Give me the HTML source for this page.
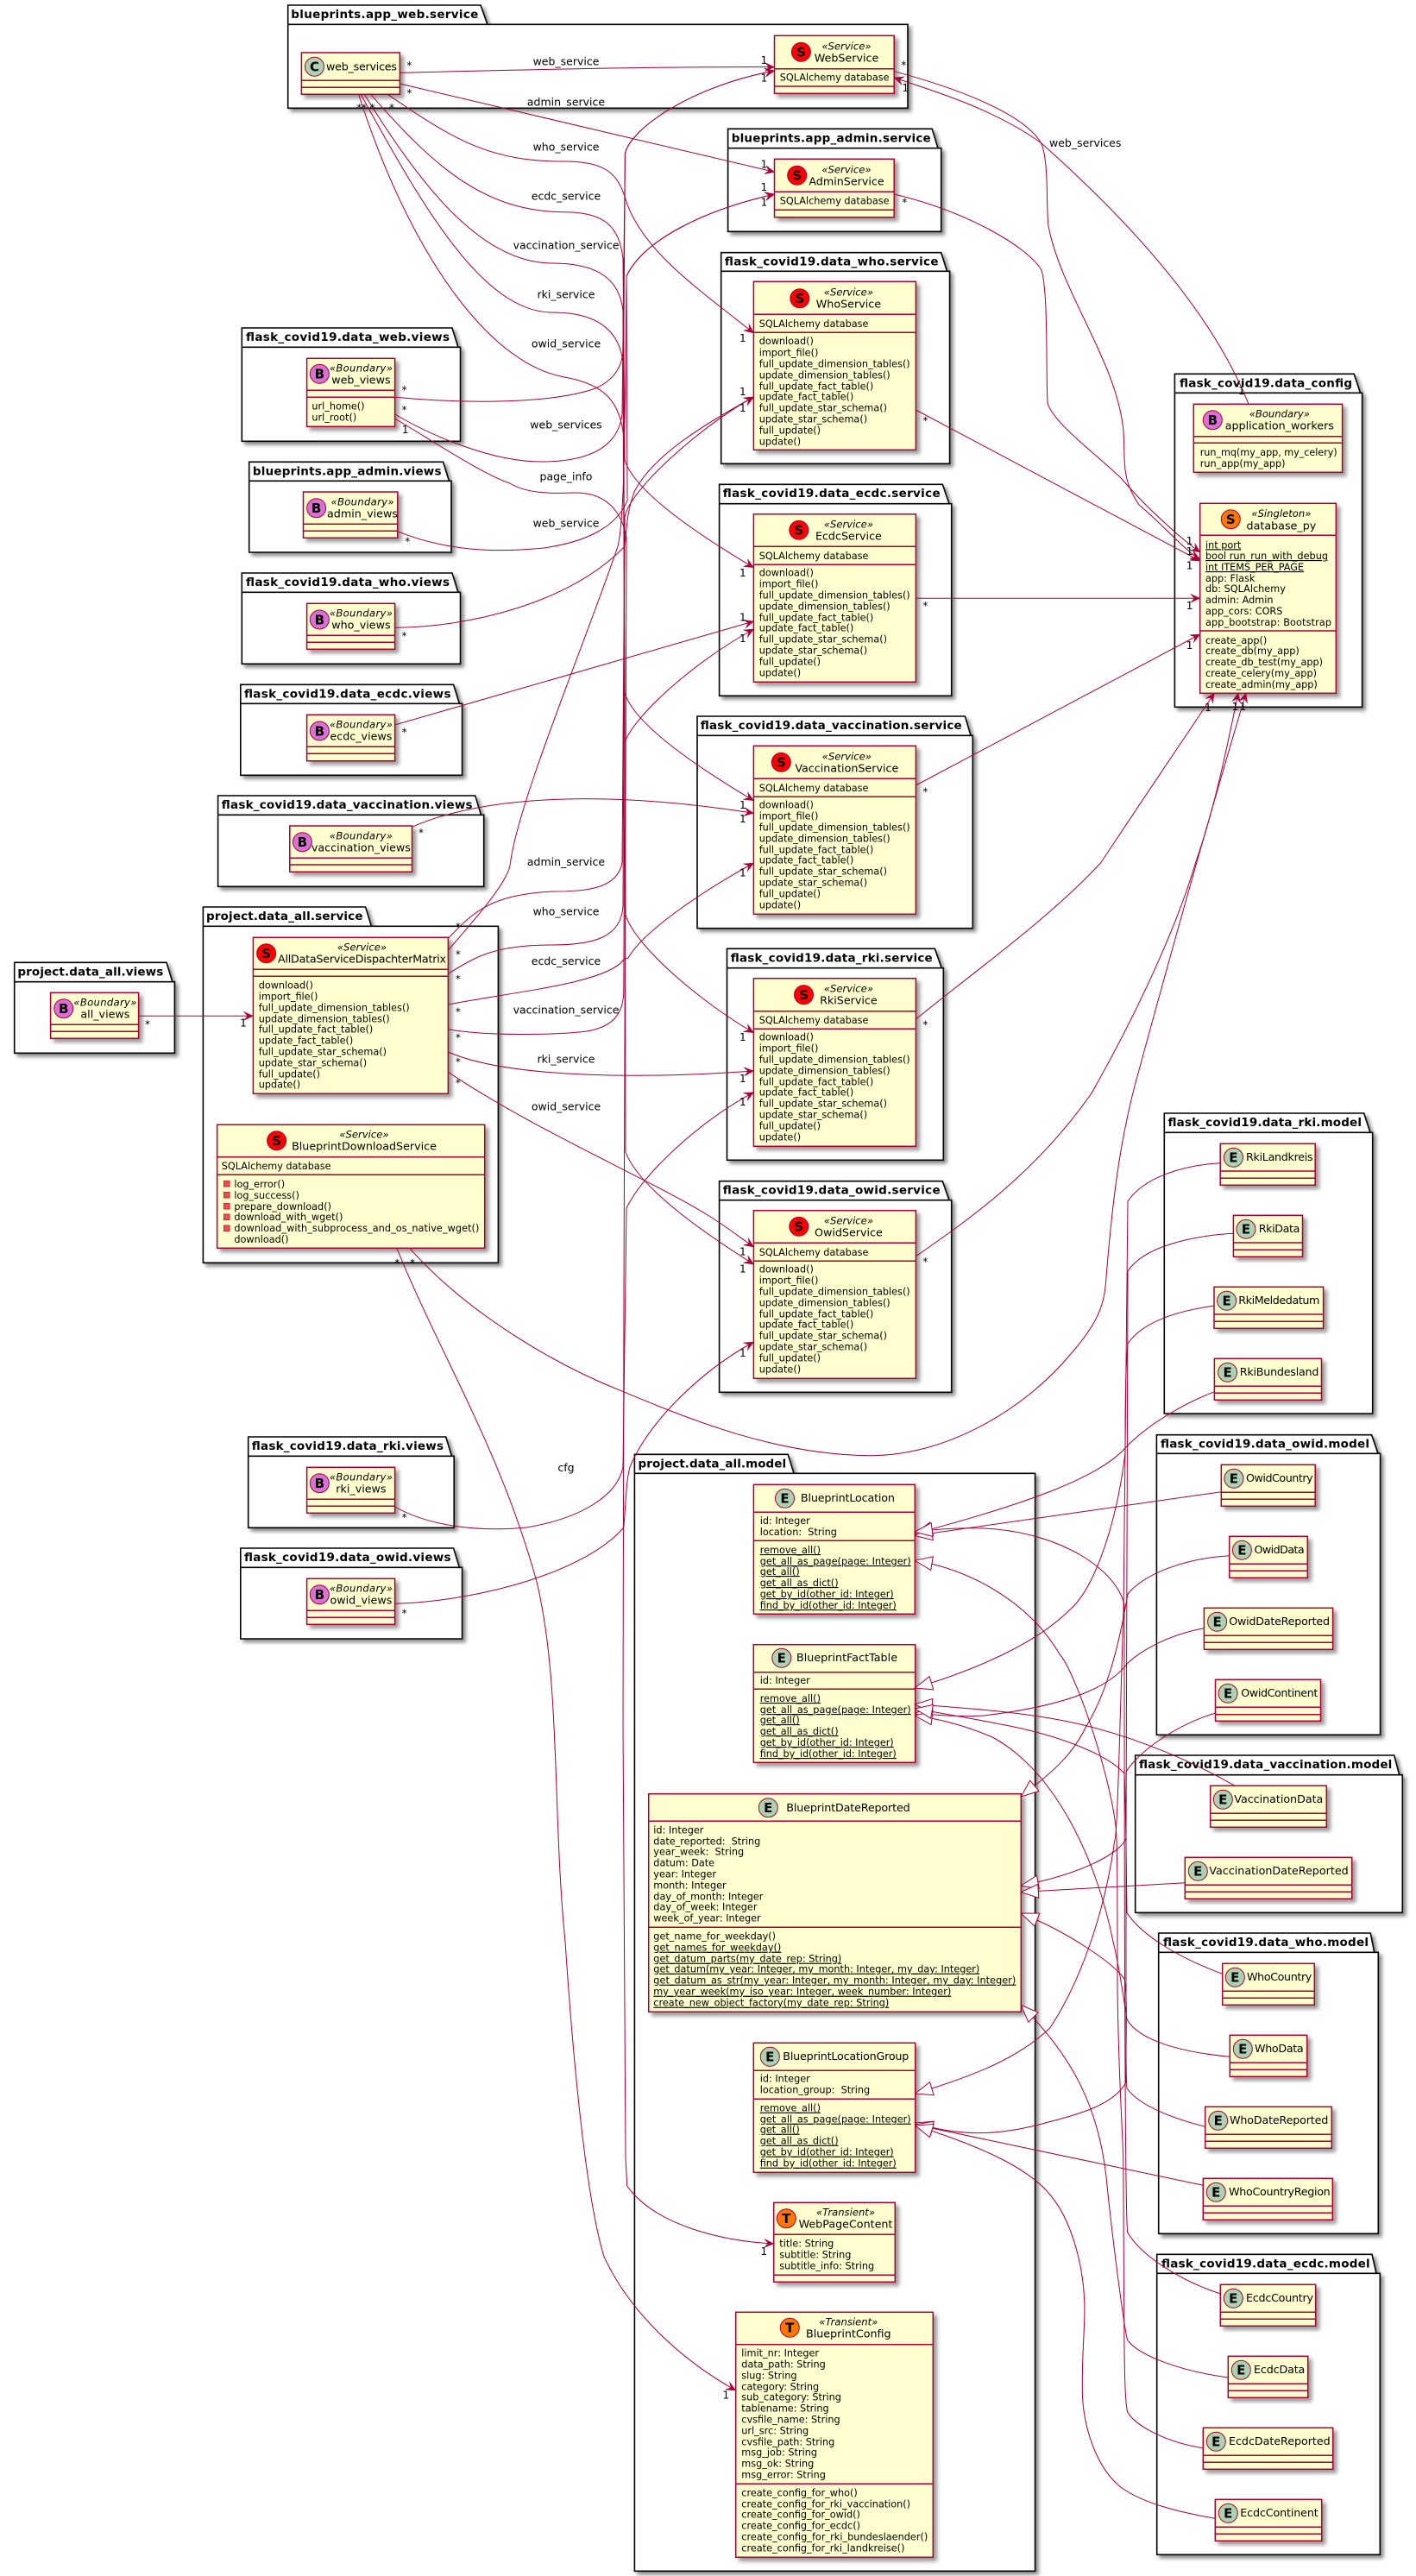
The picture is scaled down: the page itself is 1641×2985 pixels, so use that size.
<!DOCTYPE html>
<html><head><meta charset="utf-8"><title>UML</title>
<style>
html,body{margin:0;padding:0;background:#fff}
svg{display:block}
text{font-family:"DejaVu Sans","Liberation Sans",sans-serif;font-size:11.25px;fill:#000}
.p{fill:#fff;stroke:#000;stroke-width:1.6;filter:url(#s)}
.pl{fill:none;stroke:#000;stroke-width:1.6}
.pt{font-weight:bold;font-size:13.5px}
.c{fill:#FEFECE;stroke:#A80036;stroke-width:1.5;filter:url(#s2)}
.k{fill:none;stroke:#A80036;stroke-width:1.5}
.o{stroke:#A80036;stroke-width:1}
.e{fill:none;stroke:#A80036;stroke-width:1;marker-end:url(#a)}
.g{fill:none;stroke:#A80036;stroke-width:1;marker-end:url(#h)}
.n{fill:none;stroke:#A80036;stroke-width:1}
.i{font-style:italic;text-anchor:middle;font-size:11.6px}
.m{text-anchor:middle;font-size:12.7px}
.nm{font-size:12.7px}
.lb{text-anchor:middle;font-size:12.5px}
.u{text-decoration:underline}
.L{font-weight:bold;font-size:15px;text-anchor:middle}
.x{font-size:12px;text-anchor:middle}
</style></head><body>
<svg width="1641" height="2985" viewBox="0 0 1641 2985" xmlns="http://www.w3.org/2000/svg">
<defs>
<filter id="s" x="-5%" y="-5%" width="112%" height="112%"><feDropShadow dx="3.5" dy="3.5" stdDeviation="2.2" flood-color="#000" flood-opacity=".45"/></filter>
<filter id="s2" x="-10%" y="-10%" width="125%" height="125%"><feDropShadow dx="4" dy="4" stdDeviation="2.5" flood-color="#000" flood-opacity=".4"/></filter>
<marker id="a" markerUnits="userSpaceOnUse" markerWidth="13" markerHeight="12" refX="11" refY="5" orient="auto" overflow="visible"><path d="M11,5 L0,0 L4.5,5 L0,10 Z" fill="#A80036" stroke="#A80036" stroke-width=".5"/></marker>
<marker id="h" markerUnits="userSpaceOnUse" markerWidth="22" markerHeight="18" refX="20" refY="8" orient="auto" overflow="visible"><path d="M20,8 L0,0 L0,16 Z" fill="#fff" stroke="#A80036" stroke-width="1"/></marker>
</defs>
<rect width="1641" height="2985" fill="#fff"/>

<!-- packages -->
<g>
<path class="p" d="M333.7,6H557L564.9,28.3H1052V125.3H333.7Z"/><path class="pl" d="M333.7,28.3H564.9"/><text class="pt" x="337.3" y="21" textLength="217">blueprints.app_web.service</text>
<path class="p" d="M843.6,149.3H1080.2L1087,171.7H1090.7V268.3H843.6Z"/><path class="pl" d="M843.6,171.7H1087"/><text class="pt" x="847.7" y="164.5" textLength="231">blueprints.app_admin.service</text>
<path class="p" d="M835.7,292.7H1090.7L1097.5,314.3H1100.6V537.3H835.7Z"/><path class="pl" d="M835.7,314.3H1097.5"/><text class="pt" x="839.9" y="307.5" textLength="247.6">flask_covid19.data_who.service</text>
<path class="p" d="M833.6,561.3H1092.3L1100,583.7H1102.7V806.3H833.6Z"/><path class="pl" d="M833.6,583.7H1100"/><text class="pt" x="837.8" y="576" textLength="251.8">flask_covid19.data_ecdc.service</text>
<path class="p" d="M808,830H1118.4L1125,852.3H1127.3V1075.7H808Z"/><path class="pl" d="M808,852.3H1125"/><text class="pt" x="811.7" y="845" textLength="303">flask_covid19.data_vaccination.service</text>
<path class="p" d="M842.5,1099.3H1083.4L1091.2,1121.7H1093.3V1344.3H842.5Z"/><path class="pl" d="M842.5,1121.7H1091.2"/><text class="pt" x="846.7" y="1114.5" textLength="234">flask_covid19.data_rki.service</text>
<path class="p" d="M833.6,1368.7H1092.3L1100,1390.7H1102.7V1613.3H833.6Z"/><path class="pl" d="M833.6,1390.7H1100"/><text class="pt" x="837.8" y="1383.5" textLength="251.8">flask_covid19.data_owid.service</text>
<path class="p" d="M1361.4,433.3H1569.2L1576.5,455.3H1578.6V819.3H1361.4Z"/><path class="pl" d="M1361.4,455.3H1576.5"/><text class="pt" x="1367" y="448.5" textLength="200">flask_covid19.data_config</text>
<path class="p" d="M280.3,380H524L530.9,402.3H533.5V511.3H280.3Z"/><path class="pl" d="M280.3,402.3H530.9"/><text class="pt" x="285" y="395" textLength="236">flask_covid19.data_web.views</text>
<path class="p" d="M288.7,535.3H513.6L520.4,557.3H523V640H288.7Z"/><path class="pl" d="M288.7,557.3H520.4"/><text class="pt" x="292.9" y="550.5" textLength="218.6">blueprints.app_admin.views</text>
<path class="p" d="M280.3,664H524L530.9,686.3H533.5V769.3H280.3Z"/><path class="pl" d="M280.3,686.3H530.9"/><text class="pt" x="285" y="679" textLength="236">flask_covid19.data_who.views</text>
<path class="p" d="M278.8,793.3H525.6L532.4,815.3H535.6V898.3H278.8Z"/><path class="pl" d="M278.8,815.3H532.4"/><text class="pt" x="283" y="808.5" textLength="239.5">flask_covid19.data_ecdc.views</text>
<path class="p" d="M252.6,922H550.7L557.5,944.3H560.7V1027.3H252.6Z"/><path class="pl" d="M252.6,944.3H557.5"/><text class="pt" x="256.8" y="937" textLength="290.8">flask_covid19.data_vaccination.views</text>
<path class="p" d="M16.7,1115.3H193L199.8,1137.7H202.4V1220.3H16.7Z"/><path class="pl" d="M16.7,1137.7H199.8"/><text class="pt" x="20.4" y="1130.5" textLength="168.9">project.data_all.views</text>
<path class="p" d="M235.4,1051H423.6L430.4,1073.3H577.4V1463.3H235.4Z"/><path class="pl" d="M235.4,1073.3H430.4"/><text class="pt" x="239" y="1066" textLength="181.5">project.data_all.service</text>
<path class="p" d="M287.7,1665H516.7L523.5,1687.3H526.2V1770.3H287.7Z"/><path class="pl" d="M287.7,1687.3H523.5"/><text class="pt" x="291.8" y="1680" textLength="222.2">flask_covid19.data_rki.views</text>
<path class="p" d="M278.8,1794H525.6L532.4,1816.3H535.6V1899H278.8Z"/><path class="pl" d="M278.8,1816.3H532.4"/><text class="pt" x="283" y="1809" textLength="239.5">flask_covid19.data_owid.views</text>
<path class="p" d="M735.4,1685.3H913.2L920,1707.3H1199.6V2979.3H735.4Z"/><path class="pl" d="M735.4,1707.3H920"/><text class="pt" x="739.5" y="1700.5" textLength="171.6">project.data_all.model</text>
<path class="p" d="M1349.3,1290H1580.7L1588,1312.3H1590.7V1638H1349.3Z"/><path class="pl" d="M1349.3,1312.3H1588"/><text class="pt" x="1353.5" y="1305" textLength="224.5">flask_covid19.data_rki.model</text>
<path class="p" d="M1340.4,1662.7H1589.6L1597,1684.3H1599.6V2010.3H1340.4Z"/><path class="pl" d="M1340.4,1684.3H1597"/><text class="pt" x="1345" y="1677.5" textLength="242">flask_covid19.data_owid.model</text>
<path class="p" d="M1315.7,2034H1615.7L1621.7,2056.7H1625.3V2216.3H1315.7Z"/><path class="pl" d="M1315.7,2056.7H1621.7"/><text class="pt" x="1320" y="2049" textLength="293.3">flask_covid19.data_vaccination.model</text>
<path class="p" d="M1342.7,2240H1588.3L1592.7,2262.3H1597.3V2588.3H1342.7Z"/><path class="pl" d="M1342.7,2262.3H1592.7"/><text class="pt" x="1348" y="2255" textLength="238">flask_covid19.data_who.model</text>
<path class="p" d="M1340.7,2612.3H1590L1595,2634.3H1599.3V2960.3H1340.7Z"/><path class="pl" d="M1340.7,2634.3H1595"/><text class="pt" x="1346" y="2627.5" textLength="241.7">flask_covid19.data_ecdc.model</text>
</g>

<!-- classes -->
<g>
<!-- web_services -->
<rect class="c" x="349.4" y="61" width="114" height="48.3"/><path class="k" d="M349.4,93.3H463.4M349.4,101.3H463.4"/>
<circle class="o" cx="364.5" cy="77.3" r="11" fill="#ADD1B2"/><text class="L" x="364.5" y="82.5">C</text>
<text class="nm" x="378" y="81.5" textLength="82">web_services</text>

<!-- WebService -->
<rect class="c" x="897.5" y="41.3" width="138.7" height="67"/><path class="k" d="M897.5,79.7H1036.2M897.5,100H1036.2"/>
<circle class="o" cx="928.4" cy="60.3" r="11" fill="#FF0000"/><text class="L" x="928.4" y="65.5">S</text>
<text class="i" x="981" y="57.7">«Service»</text><text class="m" x="981" y="71.7">WebService</text>
<text x="903.8" y="93.7" textLength="126.7">SQLAlchemy database</text>

<!-- AdminService -->
<rect class="c" x="897.5" y="184.3" width="138.7" height="67.4"/><path class="k" d="M897.5,222.3H1036.2M897.5,243.3H1036.2"/>
<circle class="o" cx="923.7" cy="203.3" r="11" fill="#FF0000"/><text class="L" x="923.7" y="208.5">S</text>
<text class="i" x="981" y="200.7">«Service»</text><text class="m" x="981" y="214.7">AdminService</text>
<text x="903.8" y="236.7" textLength="126.7">SQLAlchemy database</text>

<!-- WhoService -->
<rect class="c" x="873.4" y="326.3" width="188" height="195"/><path class="k" d="M873.4,364.3H1061.4M873.4,385.3H1061.4"/>
<circle class="o" cx="926.8" cy="345.7" r="11" fill="#FF0000"/><text class="L" x="926.8" y="351">S</text>
<text class="i" x="983.4" y="342.7">«Service»</text><text class="m" x="983.4" y="356.7">WhoService</text>
<text x="879.7" y="379" textLength="126.7">SQLAlchemy database</text>
<text x="879.7" y="399">download()</text><text x="879.7" y="412.3">import_file()</text><text x="879.7" y="425.3" textLength="175">full_update_dimension_tables()</text><text x="879.7" y="438.3" textLength="152">update_dimension_tables()</text><text x="879.7" y="451.3">full_update_fact_table()</text><text x="879.7" y="463.3">update_fact_table()</text><text x="879.7" y="476.3">full_update_star_schema()</text><text x="879.7" y="489.3">update_star_schema()</text><text x="879.7" y="502.3">full_update()</text><text x="879.7" y="515.3">update()</text>

<!-- EcdcService -->
<rect class="c" x="873.4" y="595.7" width="188" height="194.6"/><path class="k" d="M873.4,633.3H1061.4M873.4,654.3H1061.4"/>
<circle class="o" cx="925.8" cy="614.3" r="11" fill="#FF0000"/><text class="L" x="925.8" y="619.5">S</text>
<text class="i" x="983.4" y="611.7">«Service»</text><text class="m" x="983.4" y="625.7">EcdcService</text>
<text x="879.7" y="648" textLength="126.7">SQLAlchemy database</text>
<text x="879.7" y="667.7">download()</text><text x="879.7" y="680.7">import_file()</text><text x="879.7" y="693.7" textLength="175">full_update_dimension_tables()</text><text x="879.7" y="706.7" textLength="152">update_dimension_tables()</text><text x="879.7" y="719.7">full_update_fact_table()</text><text x="879.7" y="731.7">update_fact_table()</text><text x="879.7" y="744.7">full_update_star_schema()</text><text x="879.7" y="757.7">update_star_schema()</text><text x="879.7" y="770.7">full_update()</text><text x="879.7" y="783.7">update()</text>

<!-- VaccinationService -->
<rect class="c" x="873.4" y="864.3" width="188" height="195"/><path class="k" d="M873.4,902.3H1061.4M873.4,923.3H1061.4"/>
<circle class="o" cx="905.3" cy="883.3" r="11" fill="#FF0000"/><text class="L" x="905.3" y="888.5">S</text>
<text class="i" x="981.3" y="880.7">«Service»</text><text class="m" x="981.3" y="894.7">VaccinationService</text>
<text x="879.7" y="917" textLength="126.7">SQLAlchemy database</text>
<text x="879.7" y="936.7">download()</text><text x="879.7" y="949.7">import_file()</text><text x="879.7" y="962.7" textLength="175">full_update_dimension_tables()</text><text x="879.7" y="975.7" textLength="152">update_dimension_tables()</text><text x="879.7" y="988.7">full_update_fact_table()</text><text x="879.7" y="1000.7">update_fact_table()</text><text x="879.7" y="1013.7">full_update_star_schema()</text><text x="879.7" y="1026.7">update_star_schema()</text><text x="879.7" y="1039.7">full_update()</text><text x="879.7" y="1052.7">update()</text>

<!-- RkiService -->
<rect class="c" x="873.4" y="1133.7" width="188" height="194.6"/><path class="k" d="M873.4,1171.7H1061.4M873.4,1192.3H1061.4"/>
<circle class="o" cx="931.5" cy="1152.7" r="11" fill="#FF0000"/><text class="L" x="931.5" y="1158">S</text>
<text class="i" x="983.4" y="1149.7">«Service»</text><text class="m" x="983.4" y="1163.7">RkiService</text>
<text x="879.7" y="1186" textLength="126.7">SQLAlchemy database</text>
<text x="879.7" y="1205.7">download()</text><text x="879.7" y="1218.7">import_file()</text><text x="879.7" y="1231.7" textLength="175">full_update_dimension_tables()</text><text x="879.7" y="1244.7" textLength="152">update_dimension_tables()</text><text x="879.7" y="1257.7">full_update_fact_table()</text><text x="879.7" y="1269.7">update_fact_table()</text><text x="879.7" y="1282.7">full_update_star_schema()</text><text x="879.7" y="1295.7">update_star_schema()</text><text x="879.7" y="1308.7">full_update()</text><text x="879.7" y="1321.7">update()</text>

<!-- OwidService -->
<rect class="c" x="873.4" y="1402.7" width="188" height="194.6"/><path class="k" d="M873.4,1440.3H1061.4M873.4,1461.3H1061.4"/>
<circle class="o" cx="925.8" cy="1421.3" r="11" fill="#FF0000"/><text class="L" x="925.8" y="1426.5">S</text>
<text class="i" x="983.4" y="1418.7">«Service»</text><text class="m" x="983.4" y="1432.7">OwidService</text>
<text x="879.7" y="1455" textLength="126.7">SQLAlchemy database</text>
<text x="879.7" y="1474.7">download()</text><text x="879.7" y="1487.7">import_file()</text><text x="879.7" y="1500.7" textLength="175">full_update_dimension_tables()</text><text x="879.7" y="1513.7" textLength="152">update_dimension_tables()</text><text x="879.7" y="1526.7">full_update_fact_table()</text><text x="879.7" y="1538.7">update_fact_table()</text><text x="879.7" y="1551.7">full_update_star_schema()</text><text x="879.7" y="1564.7">update_star_schema()</text><text x="879.7" y="1577.7">full_update()</text><text x="879.7" y="1590.7">update()</text>

<!-- application_workers -->
<rect class="c" x="1383.3" y="468.3" width="172.3" height="79"/><path class="k" d="M1383.3,505.7H1555.6M1383.3,513.3H1555.6"/>
<circle class="o" cx="1405.3" cy="486.7" r="11" fill="#DA70D6"/><text class="L" x="1405.3" y="492">B</text>
<text class="i" x="1482.8" y="483.3">«Boundary»</text><text class="m" x="1482.8" y="497.7">application_workers</text>
<text x="1390.7" y="528" textLength="159">run_mq(my_app, my_celery)</text><text x="1390.7" y="541">run_app(my_app)</text>

<!-- database_py -->
<rect class="c" x="1390.7" y="583.3" width="157.6" height="220"/><path class="k" d="M1390.7,620.3H1548.3M1390.7,731H1548.3"/>
<circle class="o" cx="1426.3" cy="601.7" r="11" fill="#FF7700"/><text class="L" x="1426.3" y="607">S</text>
<text class="i" x="1484.9" y="599">«Singleton»</text><text class="m" x="1484.9" y="613.3">database_py</text>
<text class="u" x="1397" y="635.3">int port</text><text class="u" x="1397" y="648" textLength="142">bool run_run_with_debug</text><text class="u" x="1397" y="661" textLength="114">int ITEMS_PER_PAGE</text><text x="1397" y="674">app: Flask</text><text x="1397" y="686">db: SQLAlchemy</text><text x="1397" y="699">admin: Admin</text><text x="1397" y="712">app_cors: CORS</text><text x="1397" y="725" textLength="146">app_bootstrap: Bootstrap</text>
<text x="1397" y="746">create_app()</text><text x="1397" y="758">create_db(my_app)</text><text x="1397" y="771">create_db_test(my_app)</text><text x="1397" y="784">create_celery(my_app)</text><text x="1397" y="797">create_admin(my_app)</text>

<!-- web_views -->
<rect class="c" x="355.6" y="415.3" width="102" height="79"/><path class="k" d="M355.6,452.3H457.6M355.6,460.3H457.6"/>
<circle class="o" cx="370.3" cy="433.3" r="11" fill="#DA70D6"/><text class="L" x="370.3" y="438.5">B</text>
<text class="i" x="418.4" y="430.7" textLength="73">«Boundary»</text><text class="m" x="418.4" y="444.7">web_views</text>
<text x="361.4" y="474.7">url_home()</text><text x="361.4" y="487.7">url_root()</text>

<!-- admin_views -->
<rect class="c" x="351.5" y="570" width="109.3" height="53.3"/><path class="k" d="M351.5,607.3H460.8M351.5,615.3H460.8"/>
<circle class="o" cx="366.6" cy="588.7" r="11" fill="#DA70D6"/><text class="L" x="366.6" y="594">B</text>
<text class="i" x="420" y="585.7" textLength="73">«Boundary»</text><text class="m" x="420" y="599.7">admin_views</text>

<!-- who_views -->
<rect class="c" x="355.6" y="699.3" width="102" height="53"/><path class="k" d="M355.6,736.3H457.6M355.6,744.3H457.6"/>
<circle class="o" cx="370.3" cy="718" r="11" fill="#DA70D6"/><text class="L" x="370.3" y="723.3">B</text>
<text class="i" x="418.4" y="714.7" textLength="73">«Boundary»</text><text class="m" x="418.4" y="728.7">who_views</text>

<!-- ecdc_views -->
<rect class="c" x="355.6" y="828.3" width="102" height="53.4"/><path class="k" d="M355.6,865.3H457.6M355.6,873.3H457.6"/>
<circle class="o" cx="370.3" cy="847" r="11" fill="#DA70D6"/><text class="L" x="370.3" y="852.3">B</text>
<text class="i" x="418.4" y="843.7" textLength="73">«Boundary»</text><text class="m" x="418.4" y="857.7">ecdc_views</text>

<!-- vaccination_views -->
<rect class="c" x="335.8" y="957" width="141.7" height="53.3"/><path class="k" d="M335.8,994.3H477.5M335.8,1002H477.5"/>
<circle class="o" cx="350.4" cy="975.7" r="11" fill="#DA70D6"/><text class="L" x="350.4" y="981">B</text>
<text class="i" x="418.4" y="972.3" textLength="73">«Boundary»</text><text class="m" x="418.4" y="986.7">vaccination_views</text>

<!-- all_views -->
<rect class="c" x="58.6" y="1150.3" width="102" height="53"/><path class="k" d="M58.6,1187.3H160.6M58.6,1195.3H160.6"/>
<circle class="o" cx="73.7" cy="1168.7" r="11" fill="#DA70D6"/><text class="L" x="73.7" y="1174">B</text>
<text class="i" x="121.9" y="1165.7" textLength="73">«Boundary»</text><text class="m" x="121.9" y="1179.7">all_views</text>

<!-- AllData -->
<rect class="c" x="293.4" y="1086.3" width="226" height="181"/><path class="k" d="M293.4,1123.3H519.4M293.4,1131.3H519.4"/>
<circle class="o" cx="308.6" cy="1104.7" r="11" fill="#FF0000"/><text class="L" x="308.6" y="1110">S</text>
<text class="i" x="419.5" y="1101.7">«Service»</text><text class="m" x="419.5" y="1115.7" textLength="195">AllDataServiceDispachterMatrix</text>
<text x="299.7" y="1145.7">download()</text><text x="299.7" y="1158.7">import_file()</text><text x="299.7" y="1171.7" textLength="175">full_update_dimension_tables()</text><text x="299.7" y="1184.7" textLength="152">update_dimension_tables()</text><text x="299.7" y="1196.7">full_update_fact_table()</text><text x="299.7" y="1209.7">update_fact_table()</text><text x="299.7" y="1222.7">full_update_star_schema()</text><text x="299.7" y="1235.7">update_star_schema()</text><text x="299.7" y="1248.7">full_update()</text><text x="299.7" y="1260.7">update()</text>

<!-- BlueprintDownloadService -->
<rect class="c" x="251.6" y="1303.3" width="310.1" height="143"/><path class="k" d="M251.6,1340.7H561.7M251.6,1361.3H561.7"/>
<circle class="o" cx="320.6" cy="1321.7" r="11" fill="#FF0000"/><text class="L" x="320.6" y="1327">S</text>
<text class="i" x="422" y="1318.7">«Service»</text><text class="m" x="422" y="1332.7">BlueprintDownloadService</text>
<text x="256.8" y="1355" textLength="126.7">SQLAlchemy database</text>
<g fill="#F24D5C" stroke="#C82930" stroke-width="1"><rect x="259.5" y="1368.5" width="6.5" height="6.5"/><rect x="259.5" y="1381.5" width="6.5" height="6.5"/><rect x="259.5" y="1394.5" width="6.5" height="6.5"/><rect x="259.5" y="1407" width="6.5" height="6.5"/><rect x="259.5" y="1420" width="6.5" height="6.5"/></g>
<text x="271.4" y="1376">log_error()</text><text x="271.4" y="1389">log_success()</text><text x="271.4" y="1402">prepare_download()</text><text x="271.4" y="1414">download_with_wget()</text><text x="271.4" y="1427" textLength="284">download_with_subprocess_and_os_native_wget()</text><text x="271.4" y="1440">download()</text>

<!-- rki_views -->
<rect class="c" x="355.6" y="1700.3" width="102" height="53"/><path class="k" d="M355.6,1737.3H457.6M355.6,1745.3H457.6"/>
<circle class="o" cx="370.3" cy="1718.7" r="11" fill="#DA70D6"/><text class="L" x="370.3" y="1724">B</text>
<text class="i" x="418.4" y="1715.7" textLength="73">«Boundary»</text><text class="m" x="418.4" y="1729.7">rki_views</text>

<!-- owid_views -->
<rect class="c" x="355.6" y="1829.3" width="102" height="53"/><path class="k" d="M355.6,1866.3H457.6M355.6,1874.3H457.6"/>
<circle class="o" cx="370.3" cy="1847.7" r="11" fill="#DA70D6"/><text class="L" x="370.3" y="1853">B</text>
<text class="i" x="418.4" y="1844.7" textLength="73">«Boundary»</text><text class="m" x="418.4" y="1858.7">owid_views</text>

<!-- BlueprintLocation -->
<rect class="c" x="873.4" y="1720.3" width="186.9" height="150"/><path class="k" d="M873.4,1752.3H1060.3M873.4,1785.3H1060.3"/>
<circle class="o" cx="909.5" cy="1736.3" r="11" fill="#ADD1B2"/><text class="L" x="909.5" y="1741.5">E</text>
<text class="nm" x="927.9" y="1740" textLength="109">BlueprintLocation</text>
<text x="880.7" y="1766">id: Integer</text><text x="880.7" y="1779" xml:space="preserve">location:  String</text>
<text class="u" x="880.7" y="1800">remove_all()</text><text class="u" x="880.7" y="1813" textLength="175">get_all_as_page(page: Integer)</text><text class="u" x="880.7" y="1825">get_all()</text><text class="u" x="880.7" y="1838">get_all_as_dict()</text><text class="u" x="880.7" y="1851" textLength="155">get_by_id(other_id: Integer)</text><text class="u" x="880.7" y="1864" textLength="158">find_by_id(other_id: Integer)</text>

<!-- BlueprintFactTable -->
<rect class="c" x="873.3" y="1905.7" width="187.4" height="136.6"/><path class="k" d="M873.3,1937.7H1060.7M873.3,1957.3H1060.7"/>
<circle class="o" cx="905.8" cy="1921.3" r="11" fill="#ADD1B2"/><text class="L" x="905.8" y="1926.5">E</text>
<text class="nm" x="923" y="1925" textLength="117">BlueprintFactTable</text>
<text x="880.7" y="1951">id: Integer</text>
<text class="u" x="880.7" y="1972">remove_all()</text><text class="u" x="880.7" y="1985" textLength="175">get_all_as_page(page: Integer)</text><text class="u" x="880.7" y="1997">get_all()</text><text class="u" x="880.7" y="2010">get_all_as_dict()</text><text class="u" x="880.7" y="2023" textLength="155">get_by_id(other_id: Integer)</text><text class="u" x="880.7" y="2036" textLength="158">find_by_id(other_id: Integer)</text>

<!-- BlueprintDateReported -->
<rect class="c" x="751.7" y="2078.7" width="431.6" height="252.6"/><path class="k" d="M751.7,2110.3H1183.3M751.7,2233.3H1183.3"/>
<circle class="o" cx="890.3" cy="2094.7" r="11" fill="#ADD1B2"/><text class="L" x="890.3" y="2100">E</text>
<text class="nm" x="911.3" y="2099" textLength="143.4">BlueprintDateReported</text>
<text x="757.3" y="2124.7">id: Integer</text><text x="757.3" y="2137.7" xml:space="preserve">date_reported:  String</text><text x="757.3" y="2149.7" xml:space="preserve">year_week:  String</text><text x="757.3" y="2162.7">datum: Date</text><text x="757.3" y="2175.7">year: Integer</text><text x="757.3" y="2188.7">month: Integer</text><text x="757.3" y="2201.7">day_of_month: Integer</text><text x="757.3" y="2213.7">day_of_week: Integer</text><text x="757.3" y="2226.7">week_of_year: Integer</text>
<text x="757.3" y="2247.7">get_name_for_weekday()</text><text class="u" x="757.3" y="2260.7" textLength="148">get_names_for_weekday()</text><text class="u" x="757.3" y="2273.7" textLength="218">get_datum_parts(my_date_rep: String)</text><text class="u" x="757.3" y="2285.7" textLength="378">get_datum(my_year: Integer, my_month: Integer, my_day: Integer)</text><text class="u" x="757.3" y="2298.7" textLength="420">get_datum_as_str(my_year: Integer, my_month: Integer, my_day: Integer)</text><text class="u" x="757.3" y="2311.7" textLength="345">my_year_week(my_iso_year: Integer, week_number: Integer)</text><text class="u" x="757.3" y="2324.7" textLength="273">create_new_object_factory(my_date_rep: String)</text>

<!-- BlueprintLocationGroup -->
<rect class="c" x="873.3" y="2367.3" width="187.4" height="150"/><path class="k" d="M873.3,2399.3H1060.7M873.3,2432.3H1060.7"/>
<circle class="o" cx="892.3" cy="2383.3" r="11" fill="#ADD1B2"/><text class="L" x="892.3" y="2388.5">E</text>
<text class="nm" x="907.3" y="2387" textLength="146">BlueprintLocationGroup</text>
<text x="880.7" y="2412.7">id: Integer</text><text x="880.7" y="2425.7" xml:space="preserve">location_group:  String</text>
<text class="u" x="880.7" y="2446.7">remove_all()</text><text class="u" x="880.7" y="2459.7" textLength="175">get_all_as_page(page: Integer)</text><text class="u" x="880.7" y="2471.7">get_all()</text><text class="u" x="880.7" y="2484.7">get_all_as_dict()</text><text class="u" x="880.7" y="2497.7" textLength="155">get_by_id(other_id: Integer)</text><text class="u" x="880.7" y="2510.7" textLength="158">find_by_id(other_id: Integer)</text>

<!-- WebPageContent -->
<rect class="c" x="896.7" y="2552.3" width="140.6" height="92"/><path class="k" d="M896.7,2589.3H1037.3M896.7,2636.3H1037.3"/>
<circle class="o" cx="911.3" cy="2570.7" r="11" fill="#FF7700"/><text class="L" x="911.3" y="2576">T</text>
<text class="i" x="980" y="2567.3">«Transient»</text><text class="m" x="980" y="2581.7">WebPageContent</text>
<text x="903.3" y="2603.7">title: String</text><text x="903.3" y="2616.7">subtitle: String</text><text x="903.3" y="2629.7">subtitle_info: String</text>

<!-- BlueprintConfig -->
<rect class="c" x="852.7" y="2679.3" width="228.6" height="284"/><path class="k" d="M852.7,2716.7H1081.3M852.7,2878.3H1081.3"/>
<circle class="o" cx="915.3" cy="2697.3" r="11" fill="#FF7700"/><text class="L" x="915.3" y="2702.5">T</text>
<text class="i" x="983.3" y="2694.7">«Transient»</text><text class="m" x="983.3" y="2708.7">BlueprintConfig</text>
<text x="859.3" y="2730.7">limit_nr: Integer</text><text x="859.3" y="2743.7">data_path: String</text><text x="859.3" y="2756.7">slug: String</text><text x="859.3" y="2769.7">category: String</text><text x="859.3" y="2781.7">sub_category: String</text><text x="859.3" y="2794.7">tablename: String</text><text x="859.3" y="2807.7">cvsfile_name: String</text><text x="859.3" y="2820.7">url_src: String</text><text x="859.3" y="2833.7">cvsfile_path: String</text><text x="859.3" y="2845.7">msg_job: String</text><text x="859.3" y="2858.7">msg_ok: String</text><text x="859.3" y="2871.7">msg_error: String</text>
<text x="859.3" y="2892.7">create_config_for_who()</text><text x="859.3" y="2905.7">create_config_for_rki_vaccination()</text><text x="859.3" y="2917.7">create_config_for_owid()</text><text x="859.3" y="2930.7">create_config_for_ecdc()</text><text x="859.3" y="2943.7" textLength="216">create_config_for_rki_bundeslaender()</text><text x="859.3" y="2956.7">create_config_for_rki_landkreise()</text>

<!-- small entities -->
<rect class="c" x="1414.2" y="1325.3" width="110" height="48"/><path class="k" d="M1414.2,1357H1524.2M1414.2,1365.3H1524.2"/><circle class="o" cx="1429.4" cy="1341.3" r="11" fill="#ADD1B2"/><text class="L" x="1429.4" y="1346.5">E</text><text class="nm" x="1444" y="1345" textLength="77.6">RkiLandkreis</text>
<rect class="c" x="1429.4" y="1408.3" width="80.1" height="48"/><path class="k" d="M1429.4,1440H1509.5M1429.4,1448.3H1509.5"/><circle class="o" cx="1444" cy="1424.3" r="11" fill="#ADD1B2"/><text class="L" x="1444" y="1429.5">E</text><text class="nm" x="1458.7" y="1428" textLength="47.7">RkiData</text>
<rect class="c" x="1407" y="1491.3" width="126.6" height="48"/><path class="k" d="M1407,1523H1533.6M1407,1531.3H1533.6"/><circle class="o" cx="1421.6" cy="1507.3" r="11" fill="#ADD1B2"/><text class="L" x="1421.6" y="1512.5">E</text><text class="nm" x="1435.2" y="1511" textLength="94.2">RkiMeldedatum</text>
<rect class="c" x="1407.4" y="1574.3" width="124.1" height="48"/><path class="k" d="M1407.4,1606.3H1531.5M1407.4,1614.3H1531.5"/><circle class="o" cx="1422.6" cy="1590.3" r="11" fill="#ADD1B2"/><text class="L" x="1422.6" y="1595.5">E</text><text class="nm" x="1436.8" y="1594" textLength="91.6">RkiBundesland</text>

<rect class="c" x="1415.3" y="1697.3" width="108.9" height="48"/><path class="k" d="M1415.3,1729.3H1524.2M1415.3,1737.3H1524.2"/><circle class="o" cx="1429.9" cy="1713.3" r="11" fill="#ADD1B2"/><text class="L" x="1429.9" y="1718.5">E</text><text class="nm" x="1444" y="1717" textLength="77.6">OwidCountry</text>
<rect class="c" x="1424.7" y="1780.3" width="90.6" height="48"/><path class="k" d="M1424.7,1812.3H1515.3M1424.7,1820.3H1515.3"/><circle class="o" cx="1439.4" cy="1796.3" r="11" fill="#ADD1B2"/><text class="L" x="1439.4" y="1801.5">E</text><text class="nm" x="1453.5" y="1800" textLength="58.1">OwidData</text>
<rect class="c" x="1395.4" y="1863.3" width="149.2" height="48"/><path class="k" d="M1395.4,1895.3H1544.6M1395.4,1903.3H1544.6"/><circle class="o" cx="1410.6" cy="1879.3" r="11" fill="#ADD1B2"/><text class="L" x="1410.6" y="1884.5">E</text><text class="nm" x="1424.2" y="1883" textLength="116.8">OwidDateReported</text>
<rect class="c" x="1408.5" y="1946.3" width="122" height="48"/><path class="k" d="M1408.5,1978.3H1530.5M1408.5,1986.7H1530.5"/><circle class="o" cx="1423.1" cy="1962.3" r="11" fill="#ADD1B2"/><text class="L" x="1423.1" y="1967.5">E</text><text class="nm" x="1438.3" y="1966" textLength="89">OwidContinent</text>

<rect class="c" x="1402.7" y="2069.3" width="134.6" height="48"/><path class="k" d="M1402.7,2101.3H1537.3M1402.7,2109.3H1537.3"/><circle class="o" cx="1417.3" cy="2085.3" r="11" fill="#ADD1B2"/><text class="L" x="1417.3" y="2090.5">E</text><text class="nm" x="1430.3" y="2089" textLength="103">VaccinationData</text>
<rect class="c" x="1373.3" y="2152.3" width="193.4" height="48"/><path class="k" d="M1373.3,2184.3H1566.7M1373.3,2192.3H1566.7"/><circle class="o" cx="1388.3" cy="2168.3" r="11" fill="#ADD1B2"/><text class="L" x="1388.3" y="2173.5">E</text><text class="nm" x="1401.3" y="2172" textLength="161.4">VaccinationDateReported</text>

<rect class="c" x="1416.7" y="2275.3" width="106.6" height="48"/><path class="k" d="M1416.7,2307.3H1523.3M1416.7,2315.3H1523.3"/><circle class="o" cx="1431.3" cy="2291.3" r="11" fill="#ADD1B2"/><text class="L" x="1431.3" y="2296.5">E</text><text class="nm" x="1445" y="2295" textLength="75.3">WhoCountry</text>
<rect class="c" x="1425.3" y="2358.3" width="89.4" height="48"/><path class="k" d="M1425.3,2390.3H1514.7M1425.3,2398.3H1514.7"/><circle class="o" cx="1440.3" cy="2374.3" r="11" fill="#ADD1B2"/><text class="L" x="1440.3" y="2379.5">E</text><text class="nm" x="1454" y="2378" textLength="56.7">WhoData</text>
<rect class="c" x="1396.7" y="2441.3" width="146.6" height="48"/><path class="k" d="M1396.7,2473.3H1543.3M1396.7,2481.3H1543.3"/><circle class="o" cx="1411.7" cy="2457.3" r="11" fill="#ADD1B2"/><text class="L" x="1411.7" y="2462.5">E</text><text class="nm" x="1425" y="2461" textLength="114.3">WhoDateReported</text>
<rect class="c" x="1394.3" y="2524.3" width="150" height="48"/><path class="k" d="M1394.3,2556.3H1544.3M1394.3,2564.3H1544.3"/><circle class="o" cx="1409.3" cy="2540.3" r="11" fill="#ADD1B2"/><text class="L" x="1409.3" y="2545.5">E</text><text class="nm" x="1424" y="2544" textLength="117.7">WhoCountryRegion</text>

<rect class="c" x="1414.3" y="2647.3" width="110.4" height="48"/><path class="k" d="M1414.3,2679.3H1524.7M1414.3,2687.3H1524.7"/><circle class="o" cx="1429.3" cy="2663.3" r="11" fill="#ADD1B2"/><text class="L" x="1429.3" y="2668.5">E</text><text class="nm" x="1444" y="2667" textLength="78">EcdcCountry</text>
<rect class="c" x="1423.3" y="2730.3" width="92.4" height="48"/><path class="k" d="M1423.3,2762.3H1515.7M1423.3,2770.3H1515.7"/><circle class="o" cx="1438.3" cy="2746.3" r="11" fill="#ADD1B2"/><text class="L" x="1438.3" y="2751.5">E</text><text class="nm" x="1453" y="2750" textLength="59.3">EcdcData</text>
<rect class="c" x="1394.3" y="2813.3" width="150.4" height="48"/><path class="k" d="M1394.3,2845.3H1544.7M1394.3,2853.3H1544.7"/><circle class="o" cx="1409.3" cy="2829.3" r="11" fill="#ADD1B2"/><text class="L" x="1409.3" y="2834.5">E</text><text class="nm" x="1424" y="2833" textLength="117.7">EcdcDateReported</text>
<rect class="c" x="1408.3" y="2896.3" width="123.4" height="48"/><path class="k" d="M1408.3,2928.3H1531.7M1408.3,2936.3H1531.7"/><circle class="o" cx="1423.3" cy="2912.3" r="11" fill="#ADD1B2"/><text class="L" x="1423.3" y="2917.5">E</text><text class="nm" x="1437.3" y="2916" textLength="90.4">EcdcContinent</text>
</g>

<!-- association edges -->
<g>
<path class="e" d="M463.4,84.3C600,81 760,77 897.5,77.7"/>
<path class="e" d="M463.4,97L897.5,199.3"/>
<path class="e" d="M449.8,109.7C530,165 570,187 654,187C700,187 715,200 724,228C742,290 810,335 873.4,386"/>
<path class="e" d="M430,109.7C500,190 560,245.7 654,245.7C700,245.7 718,262 722,300L724,533C735,570 810,620 873.4,657.7"/>
<path class="e" d="M422.6,109.7C490,220 560,305 640,305C695,305 718,325 722,360L724,803C735,840 810,890 873.4,927.7"/>
<path class="e" d="M418.4,109.7C490,240 560,362 640,362C695,362 718,385 722,420L725,1060C735,1095 810,1160 873.4,1196.7"/>
<path class="e" d="M415.8,109.7C470,280 560,420 654,437C700,445 720,465 723,510L725,1335C740,1375 810,1425 873.4,1465"/>
<path class="e" d="M457.6,460.3C540,468 640,468 690,450C712,440 722,425 722.8,400L724.4,178C730,150 800,100 897.5,82"/>
<path class="e" d="M457.6,480C500,505 570,535 627,535C680,535 716,520 721,480L724.4,178C730,150 800,100 897.5,82"/>
<path class="e" d="M457.6,485C500,510 560,550 591,560C610,572 640,572 665,571C700,570 720,590 726,623L723,1500L722,2000L725,2500L726.7,2533C760,2580 840,2597 896.7,2600"/>
<path class="e" d="M460.8,615.7C520,640 580,640 630,635C680,628 715,610 727,580L726,320C745,280 810,245 897.5,225"/>
<path class="e" d="M457.6,727.3C540,727 660,700 724,633C727,600 728,590 735,570C755,530 810,495 873.4,460"/>
<path class="e" d="M457.6,840L873.4,720"/>
<path class="e" d="M477.5,958.3C560,922 700,915 873.4,942.3"/>
<path class="e" d="M160.6,1177.3H293.4"/>
<path class="e" d="M519.4,1087.3C550,1055 570,1037 640,1033C680,1033 715,1030 721,1000L724,600C727,570 810,495 873.4,460"/>
<path class="e" d="M519.4,1101C555,1060 590,1020 591.5,1000C600,930 680,740 716,633C724,600 724,500 726,320C745,280 810,245 897.5,225"/>
<path class="n" d="M519.4,1128.3C550,1110 570,1095 640,1095C690,1095 720,1085 722,1050L724,600"/>
<path class="e" d="M519.4,1164C590,1150 700,1140 722,1113C726,1108 726,1112 728,1110C745,1080 810,1035 873.4,1000"/>
<path class="e" d="M519.4,1192.7C560,1200 640,1200 680,1195C710,1190 722,1175 722.8,1150L724,860C735,830 800,770 873.4,729"/>
<path class="e" d="M519.4,1219C590,1250 750,1250 873.4,1241"/>
<path class="e" d="M519.4,1242.3C620,1310 760,1370 820,1408C840,1420 855,1432 873.4,1445"/>
<path class="e" d="M457.6,1746C500,1770 560,1775 610,1770C670,1760 715,1735 722,1700L726,1400C745,1360 810,1300 873.4,1265.7"/>
<path class="e" d="M457.6,1858.3C560,1855 680,1820 722.8,1770C726,1730 726,1715 730,1700C750,1650 810,1590 873.4,1555"/>
<path class="e" d="M1061.4,475L1390.7,650"/>
<path class="e" d="M1061.4,693.3H1390.7"/>
<path class="e" d="M1061.4,910L1390.7,735"/>
<path class="e" d="M1061.4,1181C1130,1125 1215,1065 1275.5,1000C1320,933 1375,851 1407.4,803"/>
<path class="e" d="M1061.4,1455.7C1120,1415 1200,1360 1265,1266.7C1320,1170 1365,1070 1385.4,1000C1410,930 1425,850 1435,803"/>
<path class="e" d="M475,1446.7C540,1520 640,1580 720,1611.7C800,1645 900,1686 1008,1686.7C1100,1687 1190,1630 1240,1570C1275,1530 1280,1510 1282,1480C1290,1380 1300,1310 1320,1240C1350,1130 1400,950 1444,803"/>
<path class="e" d="M460,1446.7C510,1570 580,1680 622,1833C650,1950 640,2100 655,2250C665,2400 680,2550 700,2615C730,2680 790,2735 852.7,2770"/>
<path class="e" d="M1036.2,82.7C1120,105 1190,135 1207,166.7C1216,190 1212,240 1215,262C1230,340 1295,420 1302,500C1304,540 1300,555 1320,585C1350,610 1375,640 1390.7,648"/>
<path class="e" d="M1036.2,225C1120,245 1190,285 1207,313C1215,340 1212,430 1214,467C1220,490 1275,530 1300,555C1330,590 1370,625 1390.7,640"/>
<path class="e" d="M1447,468.3C1400,350 1290,240 1207,166C1150,125 1080,105 1036.2,90"/>
</g>

<!-- generalization edges -->
<g>
<path class="g" d="M1407.4,1612.7C1375,1625 1330,1650 1304,1678C1275,1710 1200,1740 1060.3,1777"/>
<path class="g" d="M1415.3,1728.7L1060.3,1779.5"/>
<path class="g" d="M1414.3,2658C1360,2640 1320,2610 1306.7,2586.7C1303,2560 1303,2000 1303,1860C1295,1820 1230,1775 1140,1771C1110,1770 1085,1772 1060.3,1775"/>
<path class="g" d="M1394.3,2836.7C1350,2830 1315,2810 1306.7,2795C1302,2780 1303,2700 1301.7,2500C1300,2450 1296,2400 1295,2300C1295,2200 1295,2130 1293,2116C1285,2050 1245,1935 1228,1917C1195,1860 1130,1820 1060.3,1808.3"/>
<path class="g" d="M1406.4,1513.3C1370,1518 1325,1530 1307,1557C1304,1590 1304,1640 1304,1683C1295,1760 1270,1840 1239,1866C1200,1905 1130,1935 1060.3,1956"/>
<path class="g" d="M1431,2069.3C1380,2040 1320,2015 1260,2000C1200,1985 1130,1980 1060.3,1975"/>
<path class="g" d="M1395.4,1886.7C1350,1895 1320,1915 1307,1927C1290,1950 1250,1975 1140,1988C1110,1990 1085,1987 1060.3,1985"/>
<path class="g" d="M1425.3,2383.3C1370,2378 1320,2365 1306,2340C1300,2300 1295,2270 1290,2250C1270,2150 1220,2050 1150,2013C1120,2000 1090,1992 1060.3,1988"/>
<path class="g" d="M1416.7,2287.3C1370,2270 1325,2245 1306,2216.7C1305,2150 1305,2100 1303,2055C1280,2030 1220,2010 1170,2000C1130,1992 1090,1985 1060.3,1980"/>
<path class="g" d="M1424.7,1802.7C1370,1806 1325,1825 1307,1847C1303,1870 1290,1950 1259,2000C1240,2040 1210,2060 1183.3,2082"/>
<path class="g" d="M1429.4,1429.3C1380,1432 1325,1445 1307,1473L1305,2130C1300,2145 1260,2170 1183.3,2185"/>
<path class="g" d="M1373.3,2181.7L1183.3,2192.5"/>
<path class="g" d="M1396.7,2464.3C1360,2455 1320,2440 1306,2420C1303,2380 1308,2320 1303,2293C1290,2275 1240,2240 1183.3,2217"/>
<path class="g" d="M1423.3,2755C1370,2748 1320,2730 1306.7,2711.7C1303,2700 1290,2600 1283,2533C1275,2440 1240,2380 1183.3,2323.5"/>
<path class="g" d="M1414.2,1347.7C1370,1350 1325,1365 1307,1392L1302,1866C1298,1990 1295,2130 1291.7,2133C1280,2220 1250,2300 1216.7,2350C1180,2385 1130,2405 1060.7,2426"/>
<path class="g" d="M1408.5,1985C1360,2000 1320,2030 1305,2053L1305,2413C1290,2440 1250,2450 1200,2463C1150,2475 1110,2475 1060.7,2460"/>
<path class="g" d="M1394.3,2532.3L1060.7,2462"/>
<path class="g" d="M1408.3,2918.3C1360,2910 1325,2900 1300,2883C1270,2860 1254,2810 1254.3,2766.7C1254,2720 1258,2690 1256.7,2666.7C1255,2620 1240,2570 1216.7,2543C1190,2510 1130,2485 1060.7,2463"/>
</g>

<!-- edge labels -->
<g>
<text class="lb" x="656" y="75.7">web_service</text>
<text class="lb" x="656" y="122.7">admin_service</text>
<text class="lb" x="656" y="174.7">who_service</text>
<text class="lb" x="656" y="231.7">ecdc_service</text>
<text class="lb" x="656" y="288.7">vaccination_service</text>
<text class="lb" x="656" y="345.7">rki_service</text>
<text class="lb" x="656" y="402.7">owid_service</text>
<text class="lb" x="656" y="496.7">web_services</text>
<text class="lb" x="656" y="556.7">page_info</text>
<text class="lb" x="656" y="610.7">web_service</text>
<text class="lb" x="656" y="1003">admin_service</text>
<text class="lb" x="656" y="1060.7">who_service</text>
<text class="lb" x="656" y="1118">ecdc_service</text>
<text class="lb" x="656" y="1174.7">vaccination_service</text>
<text class="lb" x="656" y="1231.7">rki_service</text>
<text class="lb" x="656" y="1286.7">owid_service</text>
<text class="lb" x="656" y="1705">cfg</text>
<text class="lb" x="1257.7" y="170">web_services</text>
</g>

<!-- multiplicities -->
<g>
<text class="x" x="474.4" y="80">*</text><text class="x" x="474.4" y="112">*</text><text class="x" x="416.3" y="129">*</text><text class="x" x="422" y="129">*</text><text class="x" x="431.5" y="129">*</text><text class="x" x="454" y="129">*</text>
<text class="x" x="468.6" y="456">*</text><text class="x" x="468.6" y="479">*</text><text class="x" x="469.7" y="502">1</text>
<text class="x" x="472.3" y="631.7">*</text><text class="x" x="468.6" y="741">*</text><text class="x" x="468.6" y="852.7">*</text><text class="x" x="488" y="969">*</text>
<text class="x" x="171" y="1191">*</text><text class="x" x="282" y="1189.5">1</text>
<text class="x" x="530.9" y="1078">*</text><text class="x" x="530.9" y="1110">*</text><text class="x" x="530.9" y="1138.7">*</text><text class="x" x="530.9" y="1176.7">*</text><text class="x" x="530.9" y="1206.7">*</text><text class="x" x="530.9" y="1234.7">*</text><text class="x" x="530.9" y="1259">*</text>
<text class="x" x="460.3" y="1467.7">*</text><text class="x" x="478" y="1467.7">*</text>
<text class="x" x="468.6" y="1762.7">*</text><text class="x" x="468.6" y="1873.7">*</text>
<text class="x" x="885.4" y="74">1</text><text class="x" x="885.4" y="94.5">1</text><text class="x" x="1047.2" y="79.7">*</text><text class="x" x="1049.3" y="106">1</text>
<text class="x" x="885.4" y="194.5">1</text><text class="x" x="885.4" y="221">1</text><text class="x" x="885.4" y="238.5">1</text><text class="x" x="1048.3" y="238.7">*</text>
<text class="x" x="860.8" y="396">1</text><text class="x" x="860.8" y="458">1</text><text class="x" x="860.8" y="477">1</text><text class="x" x="1072.4" y="491.7">*</text><text class="x" x="1438.8" y="457">1</text>
<text class="x" x="860.8" y="668">1</text><text class="x" x="860.8" y="719.5">1</text><text class="x" x="860.8" y="744">1</text><text class="x" x="1072.4" y="706">*</text>
<text class="x" x="1378.6" y="631">1</text><text class="x" x="1378.6" y="643">1</text><text class="x" x="1378.6" y="659.5">1</text><text class="x" x="1378.6" y="706">1</text><text class="x" x="1378.6" y="752">1</text>
<text class="x" x="1072.4" y="921.3">*</text><text class="x" x="860.8" y="937">1</text><text class="x" x="860.8" y="953">1</text>
<text class="x" x="1400" y="824">1</text><text class="x" x="1431.5" y="823">1</text><text class="x" x="1440.4" y="823">1</text>
<text class="x" x="860.8" y="1015.5">1</text><text class="x" x="1072.4" y="1191.7">*</text><text class="x" x="860.8" y="1206">1</text><text class="x" x="860.8" y="1254">1</text><text class="x" x="860.8" y="1281">1</text>
<text class="x" x="860.8" y="1454.5">1</text><text class="x" x="860.8" y="1474.5">1</text><text class="x" x="1072.4" y="1466">*</text><text class="x" x="860.8" y="1572">1</text>
<text class="x" x="885.3" y="2613">1</text><text class="x" x="841.3" y="2779.5">1</text>
</g>
</svg>
</body></html>
